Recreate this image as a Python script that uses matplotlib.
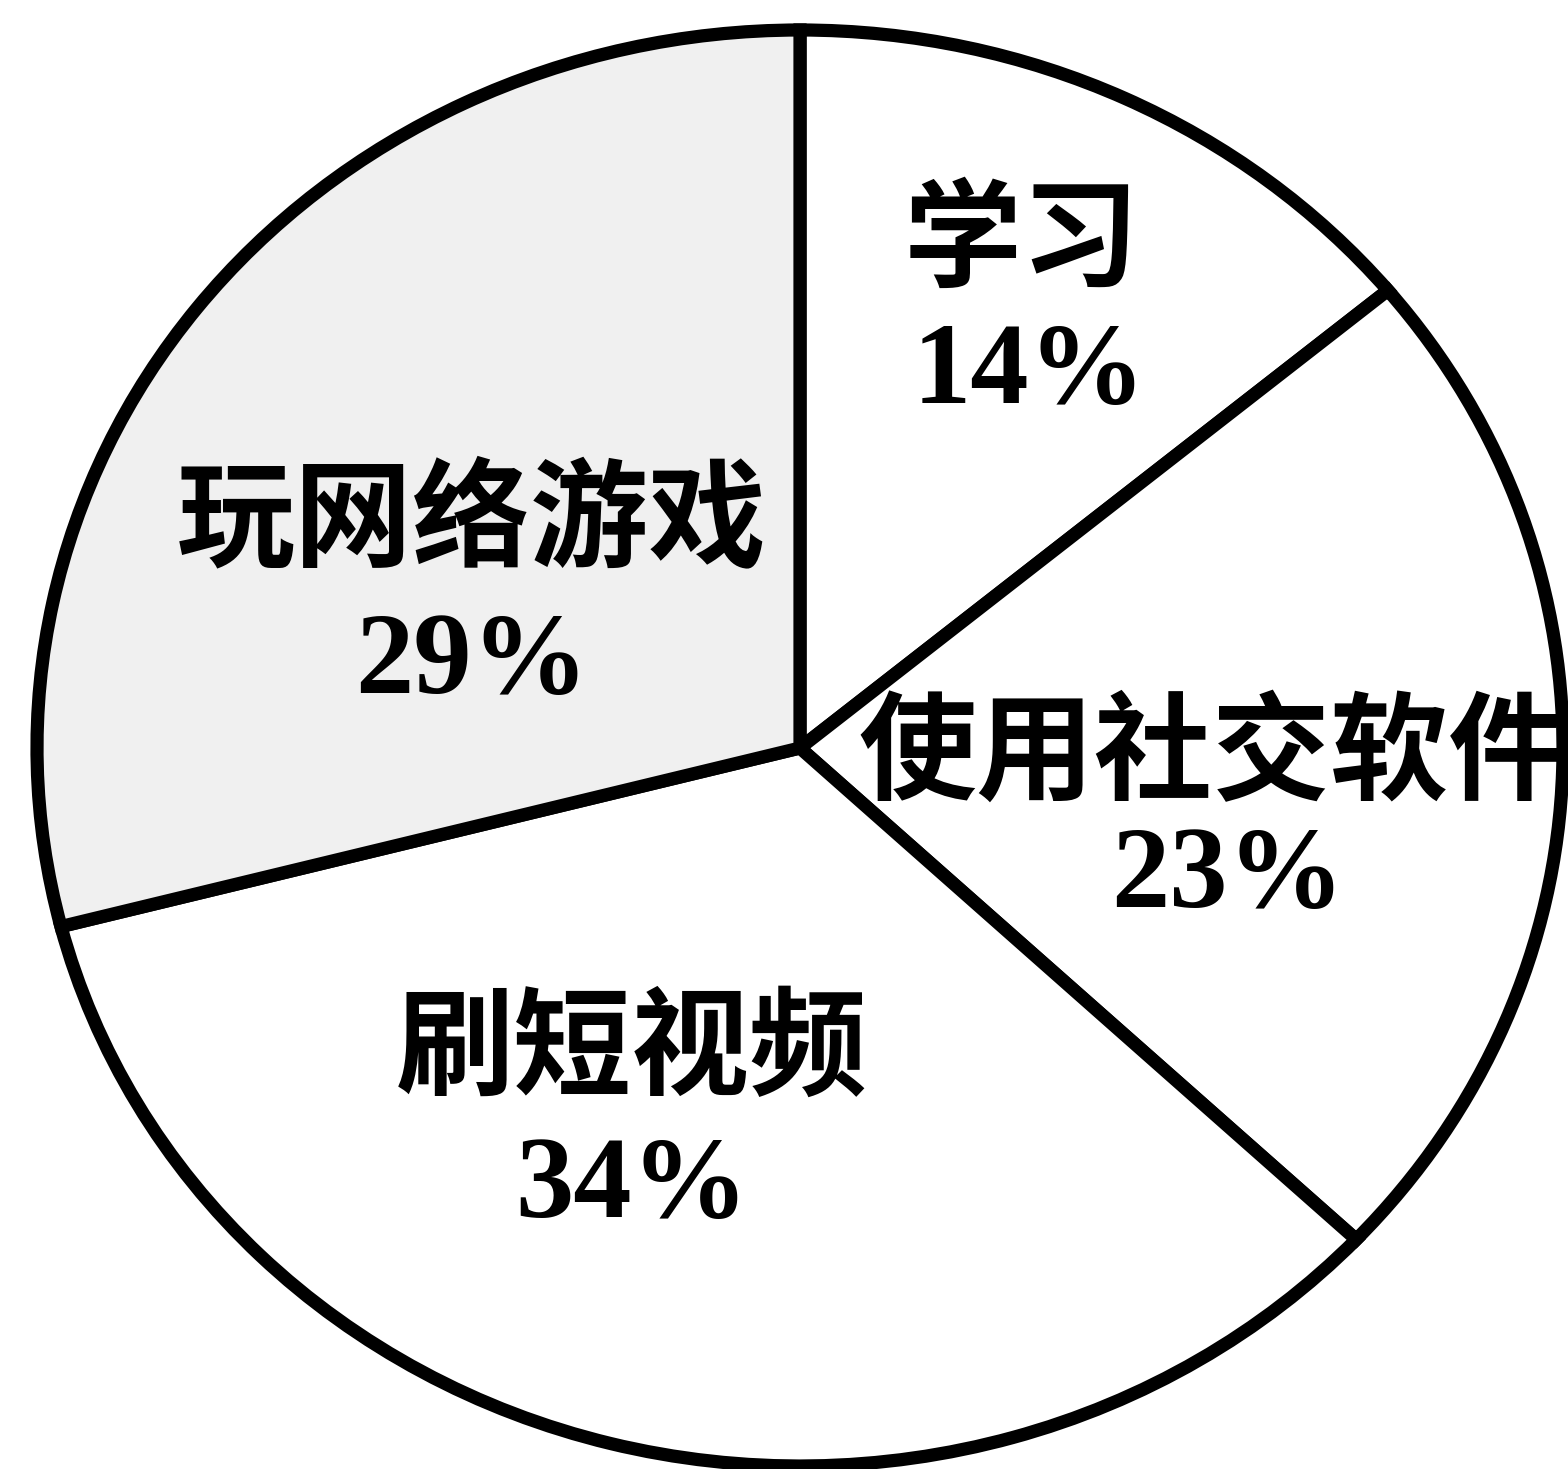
import matplotlib
matplotlib.use("Agg")
import matplotlib.pyplot as plt

# data (clockwise from 12 o'clock)
labels = ["学习", "使用社交软件", "刷短视频", "玩网络游戏"]
shares = [14, 23, 34, 29]
colors = ["white", "white", "white", "#f0f0f0"]
weights = ["bold", "bold", "bold", "heavy"]

# label anchor points in data units (x, baseline of name, baseline of %)
label_x = [0.29, 0.54, -0.22, -0.43]
pct_x = [0.30, 0.56, -0.22, -0.43]
name_base = [0.655, -0.06, -0.47, 0.265]
pct_base = [0.48, -0.222, -0.653, 0.076]

fig = plt.figure(figsize=(15.68, 14.69), dpi=100)
ax = fig.add_axes([0, 0, 1, 1])

wedges, _ = ax.pie(shares, startangle=90, counterclock=False, colors=colors,
                   wedgeprops=dict(edgecolor="black", linewidth=9.5))
ax.set_aspect("auto")
# the scanned circle is slightly squashed, so stretch the axes a bit
ax.set_xlim(-800 / 763, 768 / 763)
ax.set_ylim(-721 / 718, 748 / 718)
ax.axis("off")

for i, name in enumerate(labels):
    ax.text(label_x[i], name_base[i], name, ha="center", va="baseline",
            fontsize=85, fontweight=weights[i],
            family=["Noto Sans CJK SC", "DejaVu Sans"], color="black")
    ax.text(pct_x[i], pct_base[i], f"{shares[i]}%", ha="center", va="baseline",
            fontsize=84, fontweight="bold",
            family=["Liberation Serif", "DejaVu Serif"], color="black")

fig.savefig("out.png", dpi=100, facecolor="white")
